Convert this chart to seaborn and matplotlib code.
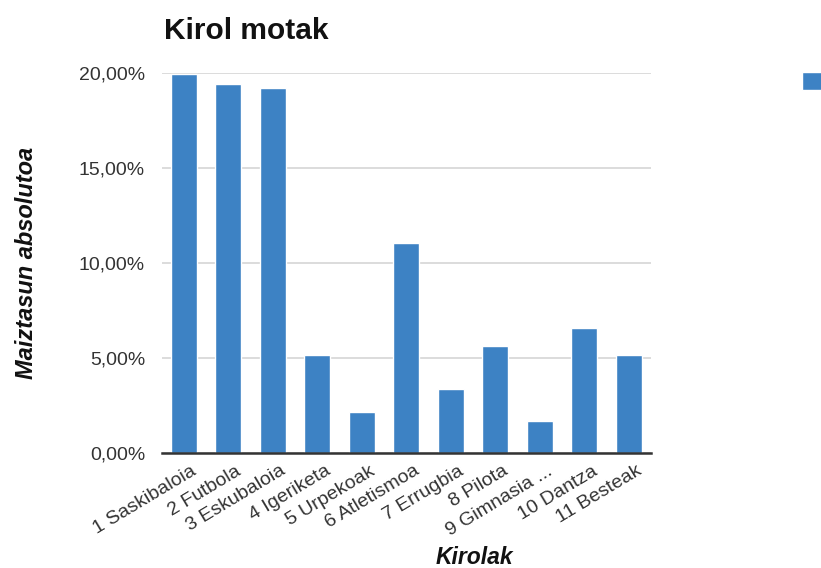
"""Kirol motak - bar chart of sport types."""
import matplotlib
matplotlib.use("Agg")
import matplotlib.pyplot as plt
import matplotlib.transforms as mtransforms
import pandas as pd
import seaborn as sns
from matplotlib.ticker import FuncFormatter

kirolak = ["1 Saskibaloia", "2 Futbola", "3 Eskubaloia", "4 Igeriketa",
           "5 Urpekoak", "6 Atletismoa", "7 Errugbia", "8 Pilota",
           "9 Gimnasia ...", "10 Dantza", "11 Besteak"]
maiztasuna = [19.95, 19.43, 19.21, 5.15, 2.16, 11.07, 3.36, 5.64, 1.69, 6.59, 5.15]

BAR_COLOR = "#3d82c4"

sns.set_theme(style="white")
plt.rcParams["font.family"] = ["Liberation Sans", "DejaVu Sans"]

df = pd.DataFrame({"kirola": kirolak, "maiztasuna": maiztasuna})

fig = plt.figure(figsize=(8.21, 5.68), dpi=100)
ax = fig.add_axes([0.197, 0.203, 0.596, 0.668])

sns.barplot(data=df, x="kirola", y="maiztasuna", color=BAR_COLOR,
            saturation=1, width=0.585, ax=ax)

ax.set_ylim(0, 20)
ax.set_xlim(-0.5, len(kirolak) - 0.5)
ax.set_yticks([0, 5, 10, 15, 20])
ax.yaxis.set_major_formatter(FuncFormatter(lambda v, _: f"{v:.2f}%".replace(".", ",")))
ax.grid(axis="y", color="#d9d9d9", linewidth=1.3)
ax.set_axisbelow(True)
for side in ["top", "right", "left"]:
    ax.spines[side].set_visible(False)
ax.spines["bottom"].set_color("#333333")
ax.spines["bottom"].set_linewidth(1.8)
ax.tick_params(axis="both", length=0, labelsize=14, colors="#333333")
ax.tick_params(axis="y", pad=12)
ax.tick_params(axis="x", pad=7)

# shift the rotated category labels a little to the right, like the original
offset = mtransforms.ScaledTranslation(7 / 100, 0, fig.dpi_scale_trans)
for lbl in ax.get_xticklabels():
    lbl.set_rotation(31)
    lbl.set_ha("right")
    lbl.set_rotation_mode("anchor")
    lbl.set_transform(lbl.get_transform() + offset)

ax.set_xlabel("Kirolak", fontsize=16.5, fontweight="bold", style="italic", color="#111111")
ax.xaxis.set_label_coords(0.638, -0.245)
ax.set_ylabel("Maiztasun absolutoa", fontsize=17, fontweight="bold", style="italic",
              color="#111111")
ax.yaxis.set_label_coords(-0.253, 0.5)
fig.text(0.2, 0.932, "Kirol motak", fontsize=21.5, fontweight="bold", ha="left",
         va="baseline", color="#111111")

handle = ax.patches[0]
ax.legend([handle], [""], loc="upper left", bbox_to_anchor=(0.9769, 0.8732),
          bbox_transform=fig.transFigure, frameon=False, fontsize=13.5,
          handlelength=1.07, handleheight=1.07, borderaxespad=0, borderpad=0)

fig.savefig("out.png", dpi=100, facecolor="white")
